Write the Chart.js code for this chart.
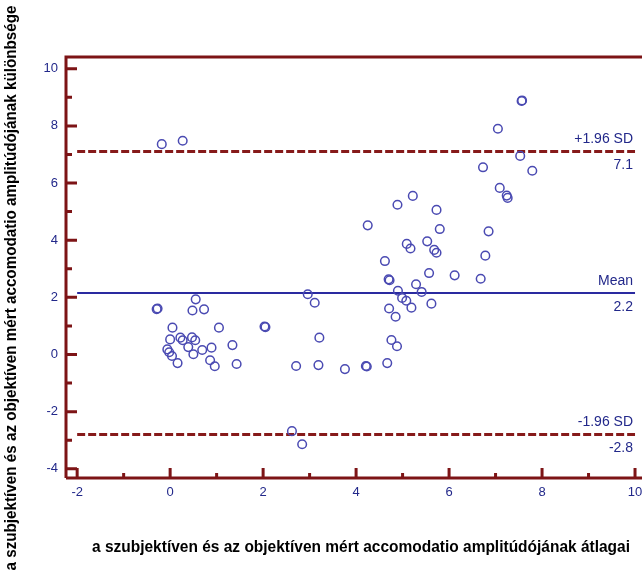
<!DOCTYPE html>
<html>
<head>
<meta charset="utf-8">
<script src="https://cdn.jsdelivr.net/npm/chart.js@4"></script>
<style>
    html, body { margin: 0; padding: 0; background: #ffffff; }
    #wrap { width: 642px; height: 575px; }
</style>
</head>
<body>
<div id="wrap"><canvas id="blandAltmanChart" width="642" height="575"></canvas></div>
<script>
// averages (x) and differences (y)
const avgValues = [
    -0.18, 0.27, -0.29, -0.27, 0.55, 0.48, 0.73, 0.05, 1.05, 0.0,
    0.22, 0.27, 0.47, 0.54, 0.39, 0.5, 0.69, 0.89, 1.34, -0.06,
    -0.02, 0.04, 0.16, 0.86, 0.96, 1.43, 2.03, 2.05, 2.96, 3.11,
    3.21, 2.71, 3.19, 3.76, 4.21, 4.23, 4.67, 2.62, 2.84, 4.76,
    4.88, 4.71, 4.85, 4.9, 4.99, 5.08, 5.19, 5.29, 5.41, 5.62,
    4.7, 4.72, 4.62, 5.57, 6.12, 6.68, 6.78, 5.09, 5.17, 5.53,
    5.68, 5.73, 4.25, 5.8, 6.85, 4.89, 5.73, 5.22, 7.09, 7.26,
    7.24, 6.73, 7.79, 7.53, 7.05, 7.56, 7.57,
];
const diffValues = [
    7.36, 7.48, 1.59, 1.61, 1.93, 1.54, 1.58, 0.94, 0.94, 0.53,
    0.59, 0.5, 0.6, 0.5, 0.26, 0.01, 0.16, 0.24, 0.33, 0.18,
    0.08, -0.05, -0.3, -0.2, -0.41, -0.33, 0.98, 0.96, 2.11, 1.81,
    0.59, -0.4, -0.37, -0.51, -0.4, -0.42, -0.3, -2.68, -3.14, 0.51,
    0.29, 1.61, 1.32, 2.23, 1.98, 1.88, 1.64, 2.46, 2.19, 1.78,
    2.63, 2.6, 3.27, 2.85, 2.77, 2.65, 3.46, 3.87, 3.71, 3.96,
    3.66, 3.56, 4.52, 4.39, 4.31, 5.24, 5.06, 5.55, 5.83, 5.48,
    5.56, 6.55, 6.43, 6.95, 7.9, 8.87, 8.89,
];

const meanDiff = 2.15;
const upperLimit = 7.1;
const lowerLimit = -2.8;
const lineSpan = [-2, 10];

const refLabelsAbove = ["+1.96 SD", "Mean", "-1.96 SD"];
const refLabelsBelow = ["7.1", "2.2", "-2.8"];

const xTicks = [-2, 0, 2, 4, 6, 8, 10];
const xMinorTicks = [-1, 1, 3, 5, 7, 9];
const yTicks = [-4, -2, 0, 2, 4, 6, 8, 10];
const yMinorTicks = [-3, -1, 1, 3, 5, 7, 9];

const xTitle = "a szubjektíven és az objektíven mért accomodatio amplitúdójának átlagai";
const yTitle = "a szubjektíven és az objektíven mért accomodatio amplitúdójának különbsége";

const frameColor = "#7d1416";
const dashColor = "#861a1a";
const meanColor = "#2a2aa0";
const pointColor = "#4a4ab2";
const labelColor = "#22288a";
const fontFamily = "'Liberation Sans', Arial, sans-serif";

function horizontalLine(value) {
    return lineSpan.map((x) => ({ x: x, y: value }));
}

const framePlugin = {
    id: "frame",
    beforeDatasetsDraw(chart) {
        const ctx = chart.ctx;
        const area = chart.chartArea;
        const xScale = chart.scales.x;
        const yScale = chart.scales.y;

        ctx.save();
        ctx.strokeStyle = frameColor;
        ctx.lineWidth = 3;
        ctx.beginPath();
        ctx.moveTo(area.left, area.bottom);
        ctx.lineTo(area.left, area.top);
        ctx.lineTo(area.right + 2, area.top);
        ctx.moveTo(area.left, area.bottom);
        ctx.lineTo(area.right + 2, area.bottom);

        yTicks.forEach((v) => {
            const py = yScale.getPixelForValue(v);
            ctx.moveTo(area.left, py);
            ctx.lineTo(area.left + 11, py);
        });
        yMinorTicks.forEach((v) => {
            const py = yScale.getPixelForValue(v);
            ctx.moveTo(area.left, py);
            ctx.lineTo(area.left + 6, py);
        });
        xTicks.forEach((v) => {
            const px = xScale.getPixelForValue(v);
            ctx.moveTo(px, area.bottom);
            ctx.lineTo(px, area.bottom - 10);
        });
        xMinorTicks.forEach((v) => {
            const px = xScale.getPixelForValue(v);
            ctx.moveTo(px, area.bottom);
            ctx.lineTo(px, area.bottom - 5);
        });
        ctx.stroke();
        ctx.restore();
    },
    afterDraw(chart) {
        const ctx = chart.ctx;
        const xScale = chart.scales.x;
        const yScale = chart.scales.y;
        const rightX = xScale.getPixelForValue(lineSpan[1]) - 2;
        const levels = [upperLimit, meanDiff, lowerLimit];

        ctx.save();
        ctx.fillStyle = labelColor;
        ctx.font = "14px " + fontFamily;
        ctx.textAlign = "right";
        levels.forEach((level, i) => {
            const py = yScale.getPixelForValue(level);
            ctx.textBaseline = "bottom";
            ctx.fillText(refLabelsAbove[i], rightX, py - 5);
            ctx.textBaseline = "top";
            ctx.fillText(refLabelsBelow[i], rightX, py + 7);
        });

        // axis titles
        ctx.fillStyle = "#000000";
        ctx.font = "bold 16px 'Liberation Sans Narrow', " + fontFamily;
        ctx.textAlign = "center";
        ctx.textBaseline = "middle";
        ctx.fillText(xTitle, 361, 548, 538);

        ctx.translate(12, 288);
        ctx.rotate(-Math.PI / 2);
        ctx.fillText(yTitle, 0, 0, 565);
        ctx.restore();
    },
};

function createBlandAltmanChart() {
    const canvas = document.getElementById("blandAltmanChart");

    const points = avgValues.map((x, i) => ({ x: x, y: diffValues[i] }));

    const data = {
        datasets: [
            {
                type: "scatter",
                label: "differences",
                data: points,
                pointStyle: "circle",
                pointRadius: 4.3,
                pointBorderWidth: 1.5,
                pointBorderColor: pointColor,
                pointBackgroundColor: "rgba(0,0,0,0)",
            },
            {
                type: "line",
                label: "mean",
                data: horizontalLine(meanDiff),
                borderColor: meanColor,
                borderWidth: 2,
                pointRadius: 0,
            },
            {
                type: "line",
                label: "upper",
                data: horizontalLine(upperLimit),
                borderColor: dashColor,
                borderWidth: 3,
                borderDash: [8, 3],
                pointRadius: 0,
            },
            {
                type: "line",
                label: "lower",
                data: horizontalLine(lowerLimit),
                borderColor: dashColor,
                borderWidth: 3,
                borderDash: [8, 3],
                pointRadius: 0,
            },
        ],
    };

    new Chart(canvas, {
        type: "scatter",
        data: data,
        plugins: [framePlugin],
        options: {
            responsive: false,
            animation: false,
            layout: {
                autoPadding: false,
                padding: { top: 57, right: 0, left: 0, bottom: 0 },
            },
            plugins: {
                legend: { display: false },
                tooltip: { enabled: false },
            },
            scales: {
                x: {
                    type: "linear",
                    min: -2.24,
                    max: 10.15,
                    afterBuildTicks: (scale) => {
                        scale.ticks = xTicks.map((v) => ({ value: v }));
                    },
                    afterFit: (scale) => {
                        scale.height = 97;
                        scale.paddingLeft = 0;
                        scale.paddingRight = 0;
                    },
                    grid: { display: false, drawTicks: false },
                    border: { display: false },
                    ticks: {
                        color: labelColor,
                        padding: 7,
                        font: { family: fontFamily, size: 13 },
                    },
                },
                y: {
                    type: "linear",
                    min: -4.32,
                    max: 10.41,
                    afterBuildTicks: (scale) => {
                        scale.ticks = yTicks.map((v) => ({ value: v }));
                    },
                    afterFit: (scale) => {
                        scale.width = 66;
                        scale.paddingTop = 0;
                        scale.paddingBottom = 0;
                    },
                    grid: { display: false, drawTicks: false },
                    border: { display: false },
                    ticks: {
                        color: labelColor,
                        padding: 8,
                        font: { family: fontFamily, size: 13 },
                    },
                },
            },
        },
    });
}

createBlandAltmanChart();
</script>
</body>
</html>
